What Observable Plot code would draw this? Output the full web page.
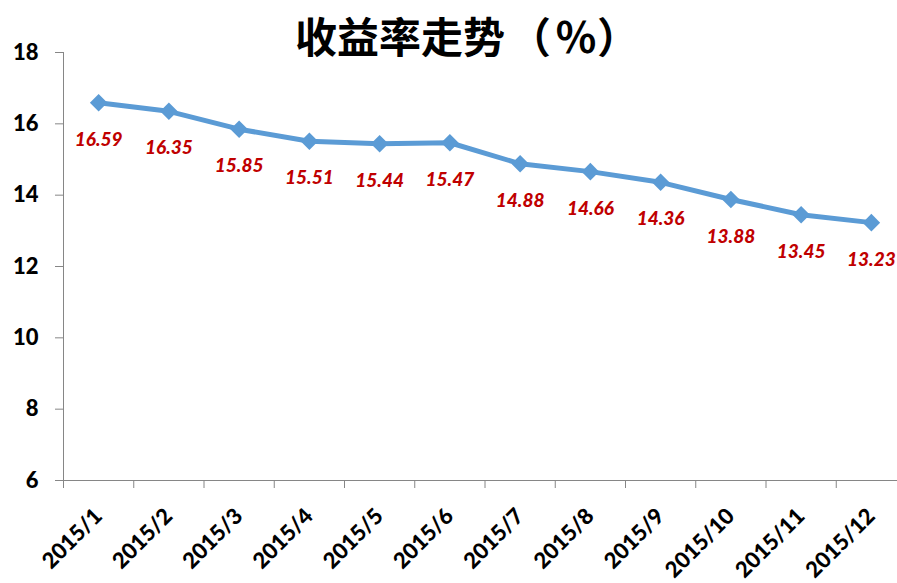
<!DOCTYPE html>
<html>
<head>
<meta charset="utf-8">
<script src="https://cdn.jsdelivr.net/npm/d3@7"></script>
<script src="https://cdn.jsdelivr.net/npm/@observablehq/plot@0.6"></script>
<style>
  html, body { margin: 0; padding: 0; background: white; }
  #title {
    height: 44px; line-height: 44px; font-size: 42px; font-weight: bold;
    font-family: "Noto Sans CJK SC", sans-serif; color: #000;
    position: relative; top: 13px; padding-left: 295px; white-space: nowrap;
  }
  #title .p { letter-spacing: 4px; }
  svg { overflow: visible; }
</style>
</head>
<body>
<div id="title">收益率走<span class="p">势（</span>％）</div>
<div id="chart"></div>
<script>
const months = ["2015/1","2015/2","2015/3","2015/4","2015/5","2015/6","2015/7","2015/8","2015/9","2015/10","2015/11","2015/12"];
const values = [16.59, 16.35, 15.85, 15.51, 15.44, 15.47, 14.88, 14.66, 14.36, 13.88, 13.45, 13.23];
const yTicks = [6, 8, 10, 12, 14, 16, 18];

const data = months.map((m, i) => ({month: m, idx: i, value: values[i]}));
const xc = d => d.idx + 0.5;
const axisColor = "#868686";
const font = "Lato, 'Open Sans', sans-serif";

const plot = Plot.plot({
  width: 897,
  height: 539,
  marginLeft: 63,
  marginRight: -9,
  marginTop: 8,
  marginBottom: 103,
  style: {fontFamily: font, background: "white", overflow: "visible"},
  x: {domain: [0, months.length]},
  y: {domain: [6, 18]},
  marks: [
    Plot.ruleY([6], {stroke: axisColor, strokeWidth: 1}),
    Plot.ruleX([0], {stroke: axisColor, strokeWidth: 1}),
    Plot.axisY({ticks: yTicks, tickSize: 8, tickPadding: 17, stroke: axisColor, fill: "black",
      fontSize: 22, fontWeight: 900, label: null}),
    Plot.axisX({ticks: d3.range(months.length + 1), tickSize: 8, stroke: axisColor,
      tickFormat: () => "", label: null}),
    Plot.axisX({ticks: months.map((m, i) => i + 0.5), tickSize: 0, tickPadding: 32, tickRotate: -45,
      tickFormat: d => months[Math.floor(d)], fontSize: 22, fontWeight: 900, fill: "black", label: null}),
    Plot.line(data, {x: xc, y: "value", stroke: "#5B9BD5", strokeWidth: 5}),
    Plot.dot(data, {x: xc, y: "value", symbol: "square", rotate: 45, r: 7, fill: "#5B9BD5", stroke: "none"}),
    Plot.text(data, {x: xc, y: "value", text: d => d.value.toFixed(2), dy: 37, fill: "#C00000",
      fontSize: 19, fontStyle: "italic", fontWeight: 900})
  ]
});
document.getElementById("chart").appendChild(plot);
</script>
</body>
</html>
